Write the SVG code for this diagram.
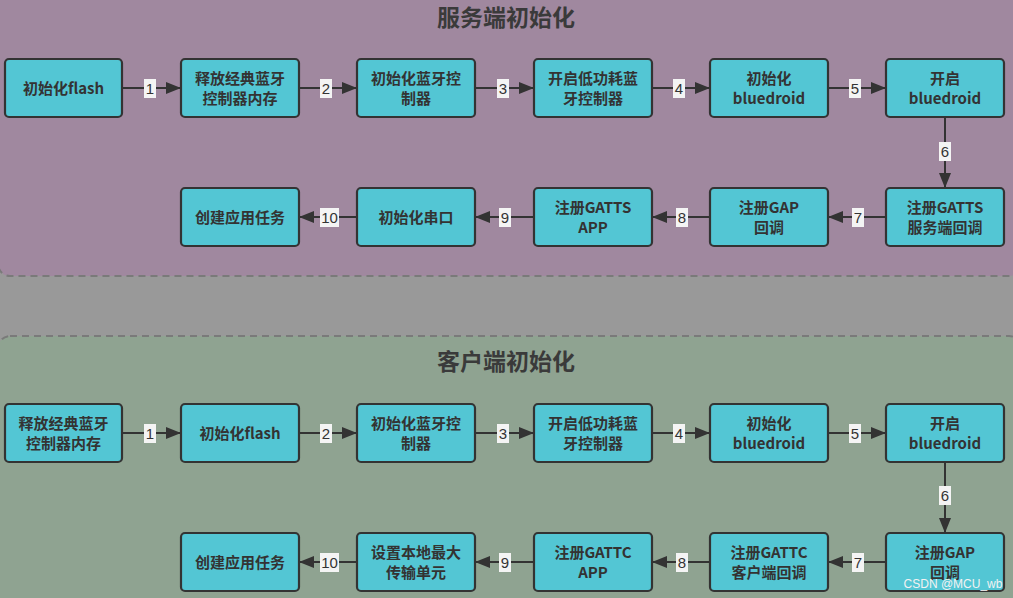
<svg xmlns="http://www.w3.org/2000/svg" width="1013" height="598" viewBox="0 0 1013 598">
<defs>
<marker id="ah" viewBox="0 0 15 12" refX="15" refY="6" markerWidth="15" markerHeight="12" markerUnits="userSpaceOnUse" orient="auto">
<path d="M0,0 L15,6 L0,12 z" fill="#333"/>
</marker>
<style>
.sec{stroke:#7a7a7a;stroke-width:2;stroke-dasharray:7,5}
.n rect{fill:#53C6D4;stroke:#333;stroke-width:2.2}
.n text{font-family:"Noto Sans CJK SC","Liberation Sans",sans-serif;font-weight:bold;font-size:15px;fill:#333;text-anchor:middle}
.c line{stroke:#333;stroke-width:2;marker-end:url(#ah)}
.lb rect{fill:#f4f4f4}
.lb text{font-family:"Liberation Sans","DejaVu Sans",sans-serif;font-size:15px;fill:#333;text-anchor:middle}
.t{font-family:"Noto Sans CJK SC",sans-serif;font-weight:bold;font-size:23px;fill:#3a3a3a;text-anchor:middle}
</style>
</defs>
<rect x="0" y="0" width="1013" height="598" fill="#999999"/>
<rect class="sec" x="-2" y="-20" width="1023" height="296" rx="12" fill="#A0889F"/>
<rect class="sec" x="-2" y="336" width="1023" height="300" rx="12" fill="#8FA391"/>
<text class="t" x="506" y="26">服务端初始化</text>
<text class="t" x="506" y="370">客户端初始化</text>

<g id="connectors" class="c">
<line x1="122" y1="88" x2="181" y2="88"/>
<line x1="299" y1="88" x2="357" y2="88"/>
<line x1="475" y1="88" x2="534" y2="88"/>
<line x1="652" y1="88" x2="710" y2="88"/>
<line x1="828" y1="88" x2="886" y2="88"/>
<line x1="945" y1="117" x2="945" y2="188"/>
<line x1="886" y1="217" x2="828" y2="217"/>
<line x1="710" y1="217" x2="652" y2="217"/>
<line x1="534" y1="217" x2="475" y2="217"/>
<line x1="357" y1="217" x2="299" y2="217"/>
<line x1="122" y1="433" x2="181" y2="433"/>
<line x1="299" y1="433" x2="357" y2="433"/>
<line x1="475" y1="433" x2="534" y2="433"/>
<line x1="652" y1="433" x2="710" y2="433"/>
<line x1="828" y1="433" x2="886" y2="433"/>
<line x1="945" y1="462" x2="945" y2="533"/>
<line x1="886" y1="562" x2="828" y2="562"/>
<line x1="710" y1="562" x2="652" y2="562"/>
<line x1="534" y1="562" x2="475" y2="562"/>
<line x1="357" y1="562" x2="299" y2="562"/>
</g>
<g id="labels" class="lb">
<rect x="144" y="79" width="12" height="19"/><text x="150" y="94">1</text>
<rect x="320" y="79" width="12" height="19"/><text x="326" y="94">2</text>
<rect x="497" y="79" width="12" height="19"/><text x="503" y="94">3</text>
<rect x="673" y="79" width="12" height="19"/><text x="679" y="94">4</text>
<rect x="849" y="79" width="12" height="19"/><text x="855" y="94">5</text>
<rect x="939" y="142" width="12" height="19"/><text x="945" y="157">6</text>
<rect x="852" y="208" width="12" height="19"/><text x="858" y="223">7</text>
<rect x="676" y="208" width="12" height="19"/><text x="682" y="223">8</text>
<rect x="499" y="208" width="12" height="19"/><text x="505" y="223">9</text>
<rect x="320" y="208" width="19" height="19"/><text x="329.5" y="223">10</text>
<rect x="144" y="424" width="12" height="19"/><text x="150" y="439">1</text>
<rect x="320" y="424" width="12" height="19"/><text x="326" y="439">2</text>
<rect x="497" y="424" width="12" height="19"/><text x="503" y="439">3</text>
<rect x="673" y="424" width="12" height="19"/><text x="679" y="439">4</text>
<rect x="849" y="424" width="12" height="19"/><text x="855" y="439">5</text>
<rect x="939" y="486" width="12" height="19"/><text x="945" y="501">6</text>
<rect x="852" y="553" width="12" height="19"/><text x="858" y="568">7</text>
<rect x="676" y="553" width="12" height="19"/><text x="682" y="568">8</text>
<rect x="499" y="553" width="12" height="19"/><text x="505" y="568">9</text>
<rect x="320" y="553" width="19" height="19"/><text x="329.5" y="568">10</text>
</g>

<g id="s1" class="n"><rect x="5" y="59" width="117" height="58" rx="4"/><text x="63.5" y="94">初始化flash</text></g>
<g id="s2" class="n"><rect x="181" y="59" width="118" height="58" rx="4"/><text x="240" y="84">释放经典蓝牙</text><text x="240" y="104">控制器内存</text></g>
<g id="s3" class="n"><rect x="357" y="59" width="118" height="58" rx="4"/><text x="416" y="84">初始化蓝牙控</text><text x="416" y="104">制器</text></g>
<g id="s4" class="n"><rect x="534" y="59" width="118" height="58" rx="4"/><text x="593" y="84">开启低功耗蓝</text><text x="593" y="104">牙控制器</text></g>
<g id="s5" class="n"><rect x="710" y="59" width="118" height="58" rx="4"/><text x="769" y="84">初始化</text><text x="769" y="104">bluedroid</text></g>
<g id="s6" class="n"><rect x="886" y="59" width="118" height="58" rx="4"/><text x="945" y="84">开启</text><text x="945" y="104">bluedroid</text></g>
<g id="s7" class="n"><rect x="886" y="188" width="118" height="58" rx="4"/><text x="945" y="213">注册GATTS</text><text x="945" y="233">服务端回调</text></g>
<g id="s8" class="n"><rect x="710" y="188" width="118" height="58" rx="4"/><text x="769" y="213">注册GAP</text><text x="769" y="233">回调</text></g>
<g id="s9" class="n"><rect x="534" y="188" width="118" height="58" rx="4"/><text x="593" y="213">注册GATTS</text><text x="593" y="233">APP</text></g>
<g id="s10" class="n"><rect x="357" y="188" width="118" height="58" rx="4"/><text x="416" y="223">初始化串口</text></g>
<g id="s11" class="n"><rect x="181" y="188" width="118" height="58" rx="4"/><text x="240" y="223">创建应用任务</text></g>

<g id="c1" class="n"><rect x="5" y="404" width="117" height="58" rx="4"/><text x="63.5" y="429">释放经典蓝牙</text><text x="63.5" y="449">控制器内存</text></g>
<g id="c2" class="n"><rect x="181" y="404" width="118" height="58" rx="4"/><text x="240" y="439">初始化flash</text></g>
<g id="c3" class="n"><rect x="357" y="404" width="118" height="58" rx="4"/><text x="416" y="429">初始化蓝牙控</text><text x="416" y="449">制器</text></g>
<g id="c4" class="n"><rect x="534" y="404" width="118" height="58" rx="4"/><text x="593" y="429">开启低功耗蓝</text><text x="593" y="449">牙控制器</text></g>
<g id="c5" class="n"><rect x="710" y="404" width="118" height="58" rx="4"/><text x="769" y="429">初始化</text><text x="769" y="449">bluedroid</text></g>
<g id="c6" class="n"><rect x="886" y="404" width="118" height="58" rx="4"/><text x="945" y="429">开启</text><text x="945" y="449">bluedroid</text></g>
<g id="c7" class="n"><rect x="886" y="533" width="118" height="58" rx="4"/><text x="945" y="558">注册GAP</text><text x="945" y="578">回调</text></g>
<g id="c8" class="n"><rect x="710" y="533" width="118" height="58" rx="4"/><text x="769" y="558">注册GATTC</text><text x="769" y="578">客户端回调</text></g>
<g id="c9" class="n"><rect x="534" y="533" width="118" height="58" rx="4"/><text x="593" y="558">注册GATTC</text><text x="593" y="578">APP</text></g>
<g id="c10" class="n"><rect x="357" y="533" width="118" height="58" rx="4"/><text x="416" y="558">设置本地最大</text><text x="416" y="578">传输单元</text></g>
<g id="c11" class="n"><rect x="181" y="533" width="118" height="58" rx="4"/><text x="240" y="568">创建应用任务</text></g>
<text x="953" y="588" font-family="Liberation Sans,sans-serif" font-size="12" fill="#f2f2f2" text-anchor="middle">CSDN @MCU_wb</text>
</svg>
